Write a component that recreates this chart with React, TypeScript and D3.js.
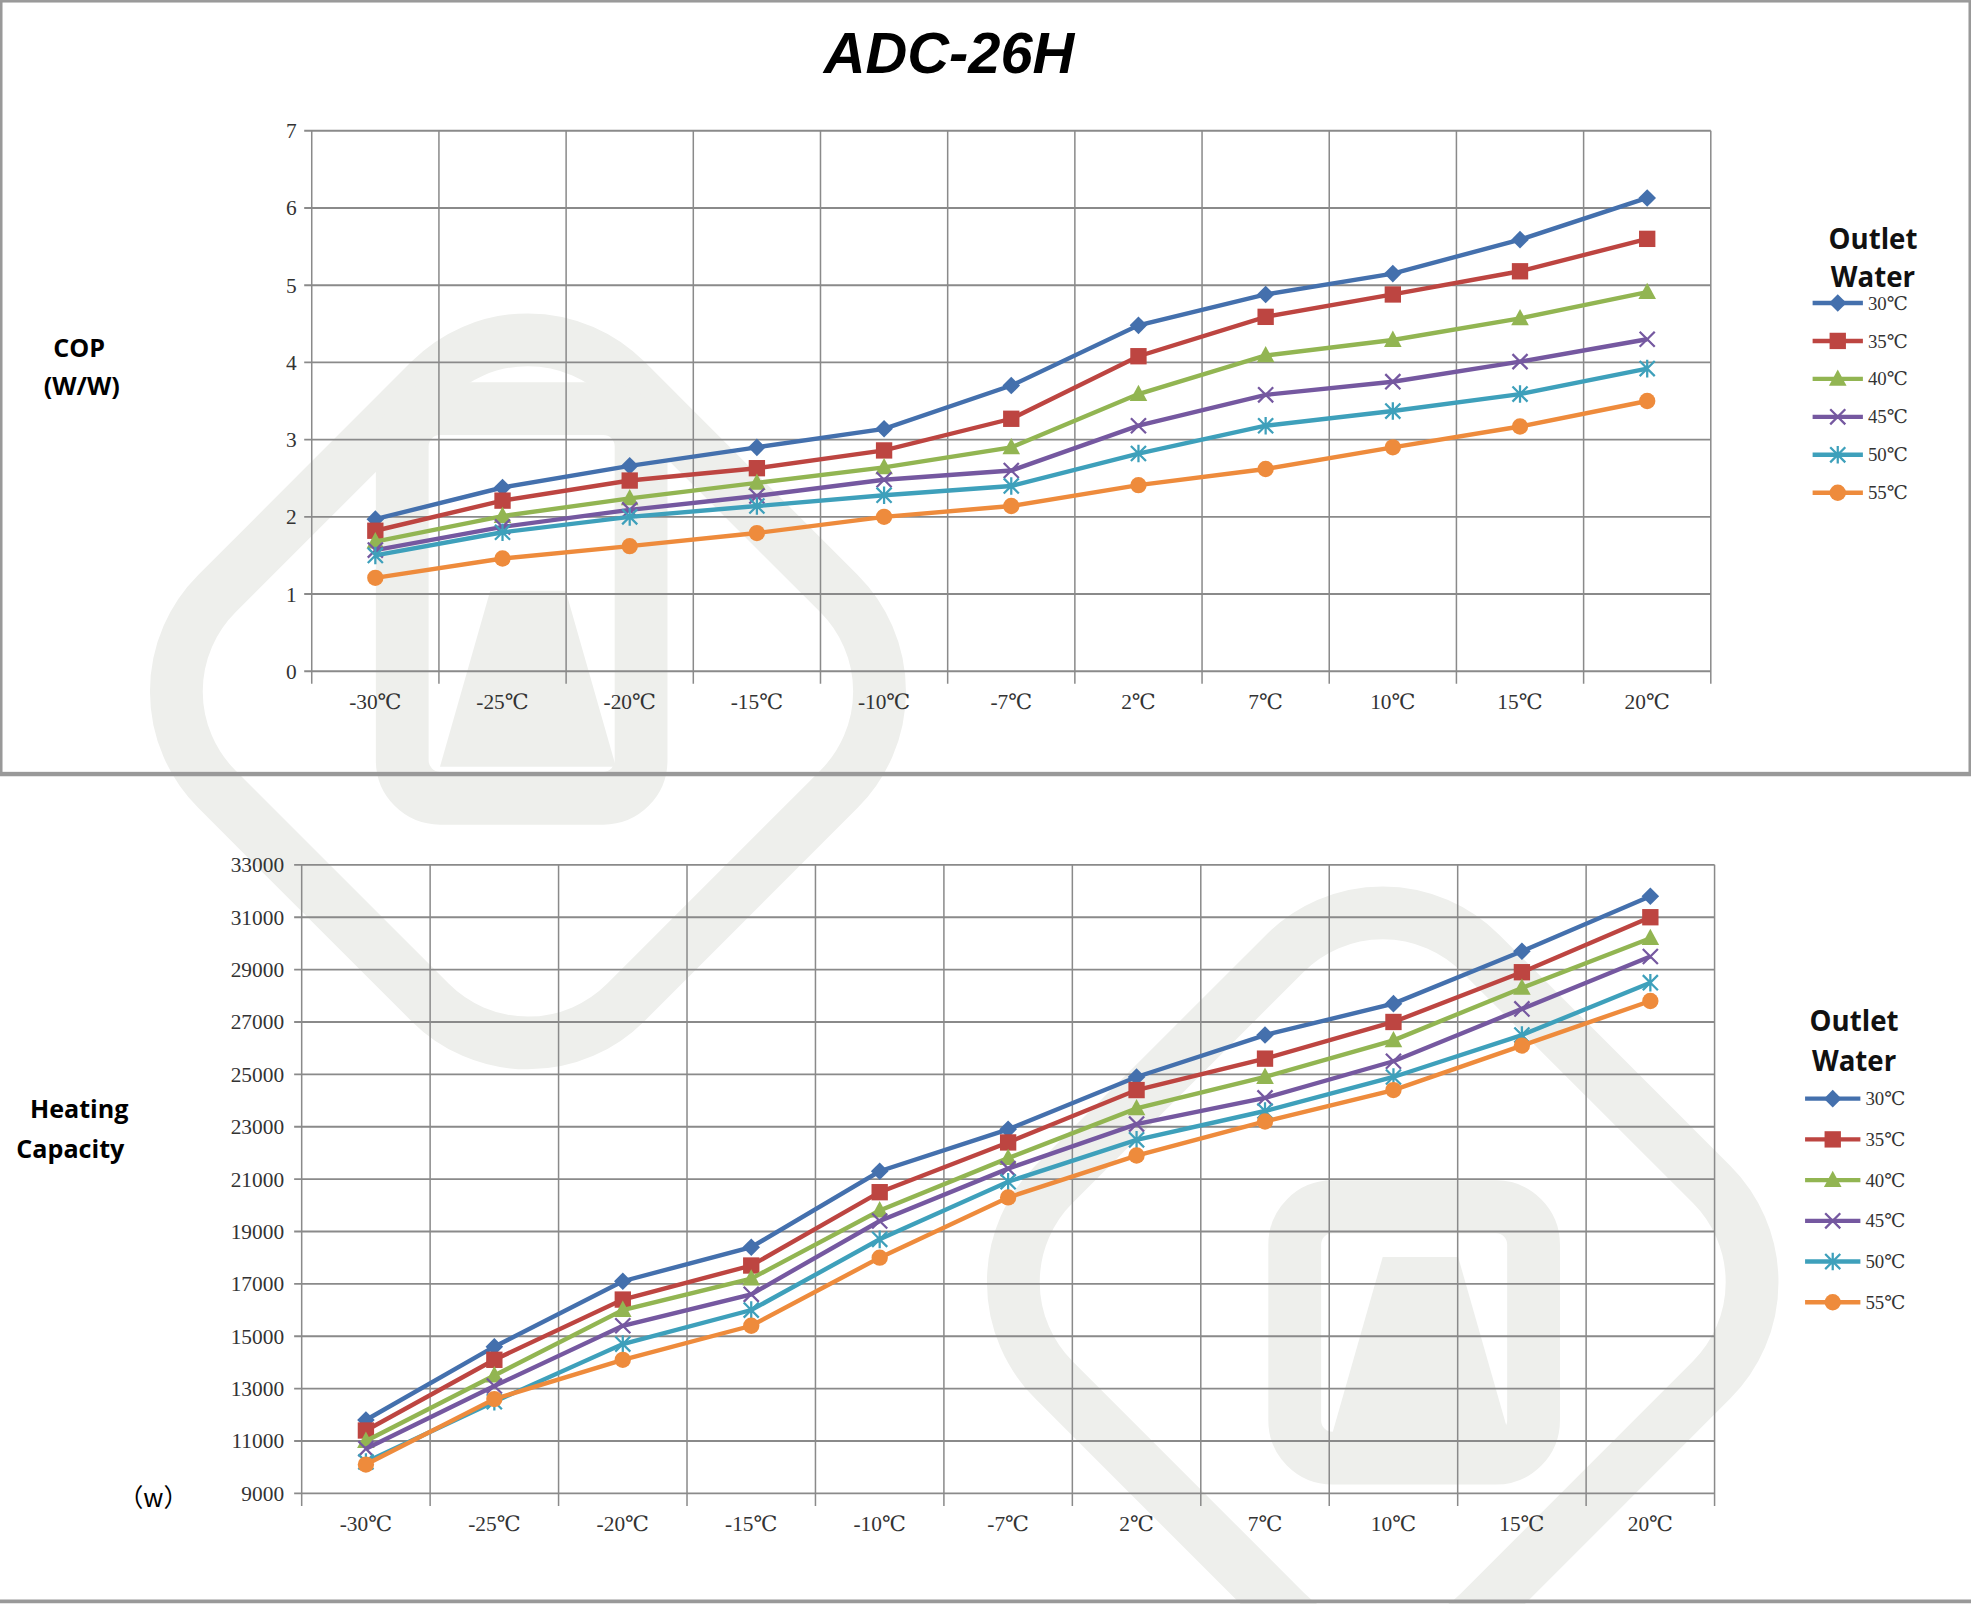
import React from "react";
import * as d3 from "d3";

const categories = ["-30℃", "-25℃", "-20℃", "-15℃", "-10℃", "-7℃", "2℃", "7℃", "10℃", "15℃", "20℃"];
const seriesNames = ["30℃", "35℃", "40℃", "45℃", "50℃", "55℃"];
const colors = ["#4470ad", "#bd4541", "#92b552", "#7558a0", "#3ea0bb", "#ee8b3c"];
const markers = ["diamond", "square", "triangle", "x", "star", "circle"];

const cop30 = [1.97, 2.38, 2.66, 2.9, 3.14, 3.7, 4.48, 4.88, 5.15, 5.59, 6.13];
const cop35 = [1.82, 2.21, 2.47, 2.63, 2.86, 3.27, 4.08, 4.59, 4.88, 5.18, 5.6];
const cop40 = [1.68, 2.01, 2.24, 2.44, 2.64, 2.9, 3.59, 4.09, 4.29, 4.57, 4.91];
const cop45 = [1.57, 1.87, 2.09, 2.27, 2.48, 2.6, 3.18, 3.58, 3.75, 4.01, 4.3];
const cop50 = [1.5, 1.8, 2.0, 2.14, 2.28, 2.4, 2.82, 3.18, 3.37, 3.59, 3.92];
const cop55 = [1.21, 1.46, 1.62, 1.79, 2.0, 2.14, 2.41, 2.62, 2.9, 3.17, 3.5];

const cap30 = [11800, 14600, 17100, 18400, 21300, 22900, 24900, 26500, 27700, 29700, 31800];
const cap35 = [11400, 14100, 16400, 17700, 20500, 22400, 24400, 25600, 27000, 28900, 31000];
const cap40 = [11000, 13500, 16000, 17200, 19800, 21800, 23700, 24900, 26300, 28300, 30200];
const cap45 = [10700, 13100, 15400, 16600, 19400, 21400, 23100, 24100, 25500, 27500, 29500];
const cap50 = [10200, 12500, 14700, 16000, 18700, 20900, 22500, 23600, 24900, 26500, 28500];
const cap55 = [10100, 12600, 14100, 15400, 18000, 20300, 21900, 23200, 24400, 26100, 27800];

const copTicks = [0, 1, 2, 3, 4, 5, 6, 7];
const capTicks = d3.range(9000, 33001, 2000);

const serif = "'Liberation Serif', 'DejaVu Serif', serif";
const sans = "'Open Sans', 'Noto Sans', sans-serif";

function Marker({ type, x, y, color }) {
  const s = 7;
  if (type === "diamond") return <path d={`M${x},${y - s}L${x + s},${y}L${x},${y + s}L${x - s},${y}Z`} fill={color} />;
  if (type === "square") return <rect x={x - 6.5} y={y - 6.5} width={13} height={13} fill={color} />;
  if (type === "triangle") return <path d={`M${x},${y - 7.5}L${x + 7},${y + 5.5}L${x - 7},${y + 5.5}Z`} fill={color} />;
  if (type === "circle") return <circle cx={x} cy={y} r={6.5} fill={color} />;
  if (type === "x")
    return <path d={`M${x - 6},${y - 6}L${x + 6},${y + 6}M${x - 6},${y + 6}L${x + 6},${y - 6}`} stroke={color} strokeWidth={1.8} />;
  return (
    <path
      d={`M${x - 6},${y - 6}L${x + 6},${y + 6}M${x - 6},${y + 6}L${x + 6},${y - 6}M${x},${y - 7}L${x},${y + 7}`}
      stroke={color}
      strokeWidth={1.8}
    />
  );
}

function Panel({ series, ticks, x0, x1, y0, y1, labelX, legend, legendLine }) {
  const x = d3.scaleBand().domain(categories).range([x0, x1]);
  const y = d3.scaleLinear().domain([ticks[0], ticks[ticks.length - 1]]).range([y1, y0]);
  const line = d3
    .line<number>()
    .x((_, i) => x(categories[i])! + x.bandwidth() / 2)
    .y((d) => y(d));
  const bounds = categories.map((c) => x(c)!).concat([x1]);
  return (
    <g>
      {ticks.map((t) => (
        <g key={t}>
          <line x1={x0 - 6} x2={x1} y1={y(t)} y2={y(t)} stroke="#8a8a8a" strokeWidth={1.5} />
          <text x={labelX} y={y(t)} dy="0.35em" textAnchor="end" fontFamily={serif} fontSize={17} fill="#333">
            {t}
          </text>
        </g>
      ))}
      {bounds.map((b, i) => (
        <line key={i} x1={b} x2={b} y1={y0} y2={y1 + 10} stroke="#8a8a8a" strokeWidth={1.2} />
      ))}
      {categories.map((c) => (
        <text key={c} x={x(c)! + x.bandwidth() / 2} y={y1 + 30} textAnchor="middle" fontFamily={serif} fontSize={17} fill="#333">
          {c}
        </text>
      ))}
      {series.map((s, si) => (
        <g key={si}>
          <path d={line(s)!} fill="none" stroke={colors[si]} strokeWidth={3.5} />
          {s.map((v, i) => (
            <Marker key={i} type={markers[si]} x={x(categories[i])! + x.bandwidth() / 2} y={y(v)} color={colors[si]} />
          ))}
        </g>
      ))}
      <text x={legend.cx} y={legend.y} textAnchor="middle" fontFamily={sans} fontWeight="bold" fontSize={22} fill="#111">
        Outlet
      </text>
      <text x={legend.cx} y={legend.y + legend.gapTitle} textAnchor="middle" fontFamily={sans} fontWeight="bold" fontSize={22} fill="#111">
        Water
      </text>
      {seriesNames.map((n, i) => {
        const ly = legend.y0 + i * legend.step;
        return (
          <g key={n}>
            <line x1={legendLine[0]} x2={legendLine[1]} y1={ly} y2={ly} stroke={colors[i]} strokeWidth={3.5} />
            <Marker type={markers[i]} x={(legendLine[0] + legendLine[1]) / 2} y={ly} color={colors[i]} />
            <text x={legendLine[1] + 4} y={ly} dy="0.35em" fontFamily={serif} fontSize={15} fill="#333">
              {n}
            </text>
          </g>
        );
      })}
    </g>
  );
}

export default function App() {
  const wm = "#eeefec";
  return (
    <svg
      width={1971}
      height={1604}
      viewBox="0 0 1568 1276"
      style={{ display: "block", position: "absolute", left: 0, top: 0 }}
    >
      <rect width={1568} height={1276} fill="#fff" />
      {/* watermark */}
      <g fill="none" stroke={wm} strokeWidth={42}>
        <rect x={190} y={320} width={460} height={460} rx={110} transform="rotate(45 420 550)" />
        <rect x={320} y={325} width={190} height={310} rx={30} />
        <rect x={860} y={780} width={480} height={480} rx={110} transform="rotate(45 1100 1020)" />
        <rect x={1030} y={960} width={190} height={200} rx={30} />
      </g>
      <g fill={wm}>
        <path d="M350,610 L390,470 L450,470 L490,610 Z" />
        <path d="M1060,1140 L1100,1000 L1160,1000 L1200,1140 Z" />
      </g>
      <rect x={1} y={1} width={1566} height={614} fill="none" stroke="#999" strokeWidth={2} />
      <line x1={0} x2={1568} y1={616} y2={616} stroke="#999" strokeWidth={3} />
      <line x1={0} x2={1568} y1={1274} y2={1274} stroke="#999" strokeWidth={3} />
      <text x={755} y={58} textAnchor="middle" fontFamily="'Liberation Sans', Arial, sans-serif" fontWeight="bold" fontStyle="italic" fontSize={46} fill="#000">
        ADC-26H
      </text>
      <text x={63} y={284} textAnchor="middle" fontFamily={sans} fontWeight="bold" fontSize={20}>COP</text>
      <text x={65} y={314} textAnchor="middle" fontFamily={sans} fontWeight="bold" fontSize={20}>(W/W)</text>
      <Panel
        series={[cop30, cop35, cop40, cop45, cop50, cop55]}
        ticks={copTicks}
        x0={248}
        x1={1361}
        y0={104}
        y1={534}
        labelX={236}
        legend={{ cx: 1490, y: 198, gapTitle: 30, y0: 241, step: 30.2 }}
        legendLine={[1442, 1482]}
      />
      <text x={63} y={889} textAnchor="middle" fontFamily={sans} fontWeight="bold" fontSize={20}>Heating</text>
      <text x={56} y={921} textAnchor="middle" fontFamily={sans} fontWeight="bold" fontSize={20}>Capacity</text>
      <text x={122} y={1199} textAnchor="middle" fontFamily="'Noto Sans CJK SC', sans-serif" fontSize={20}>（w）</text>
      <Panel
        series={[cap30, cap35, cap40, cap45, cap50, cap55]}
        ticks={capTicks}
        x0={240}
        x1={1364}
        y0={688}
        y1={1188}
        labelX={226}
        legend={{ cx: 1475, y: 820, gapTitle: 32, y0: 874, step: 32.4 }}
        legendLine={[1436, 1480]}
      />
    </svg>
  );
}
